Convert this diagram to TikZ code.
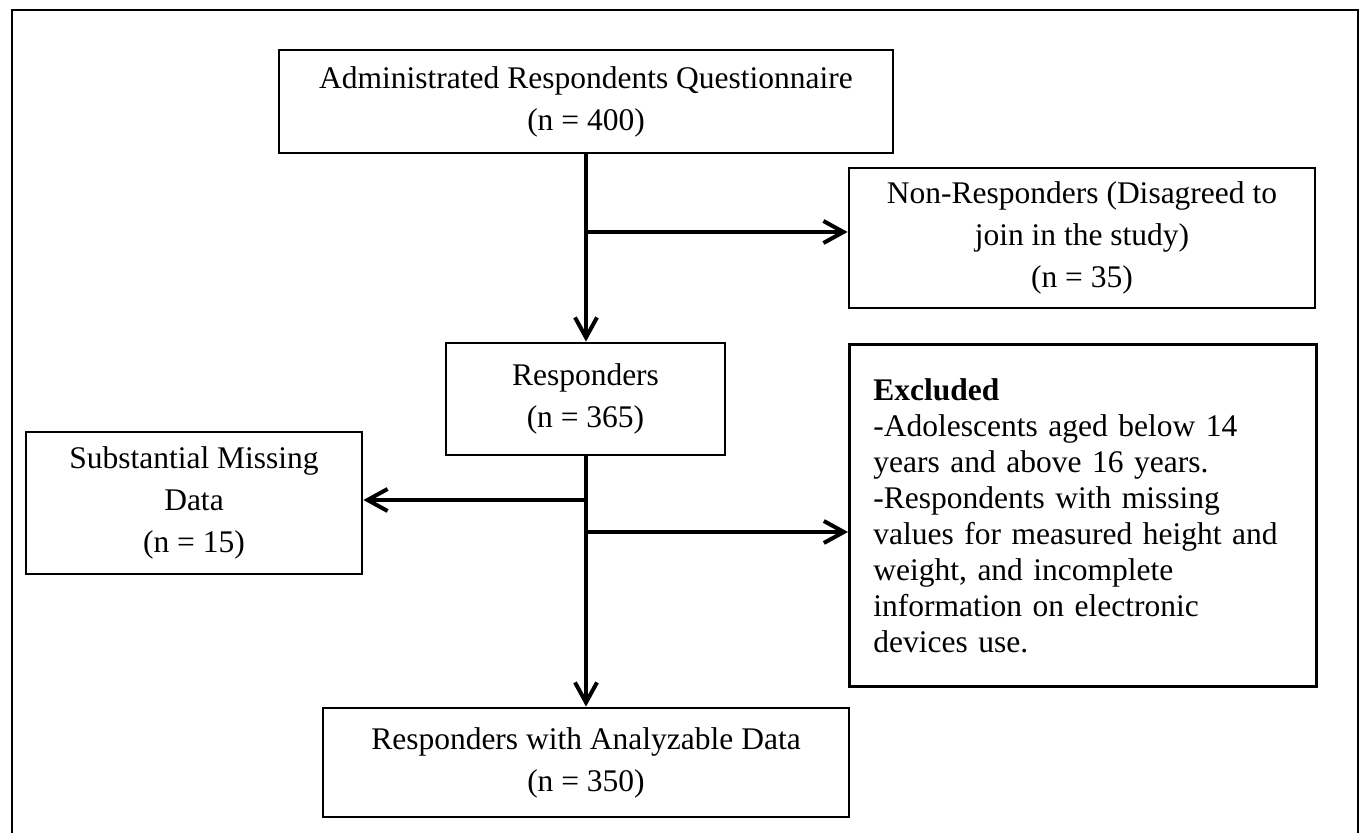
\documentclass[tikz,border=0pt]{standalone}
\usepackage{fontspec}
\setmainfont{Liberation Serif}
\usetikzlibrary{arrows.meta}
\begin{document}
\begin{tikzpicture}[x=0.5pt,y=-0.5pt,
  box/.style={draw, line width=1.4pt, rectangle, align=center, inner sep=0pt,
    font=\fontsize{15.75}{21}\selectfont},
  arr/.style={line width=2pt, -{Straight Barb[length=10pt,width=11pt]}},
  frame/.style={line width=1pt}]
\useasboundingbox (0,0) rectangle (1362,833);
\draw[frame] (12,840) -- (12,10) -- (1358,10) -- (1358,840);
\node[box, minimum width=307pt, minimum height=51.5pt] (adm) at (586,101.5)
  {Administrated Respondents Questionnaire\\(n = 400)};
\node[box, minimum width=233pt, minimum height=70pt] (nr) at (1082,238)
  {Non-Responders (Disagreed to\\join in the study)\\(n = 35)};
\node[box, minimum width=139.5pt, minimum height=56pt] (resp) at (585.5,399)
  {Responders\\(n = 365)};
\node[box, minimum width=168pt, minimum height=71pt] (sub) at (194,503)
  {Substantial Missing\\Data\\(n = 15)};
\node[box, anchor=north west, align=left, text width=209.5pt, inner xsep=12pt,
  minimum height=171pt, font=\fontsize{15.75}{18}\selectfont] (exc) at (848,343)
  {\textbf{Excluded}\\-Adolescents aged below 14\\years and above 16 years.\\-Respondents with missing\\values for measured height and\\weight, and incomplete\\information on electronic\\devices use.};
\node[box, minimum width=263pt, minimum height=54.5pt] (ana) at (586,762.5)
  {Responders with Analyzable Data\\(n = 350)};
\coordinate (j1) at (586,232);
\coordinate (j2) at (586,500);
\coordinate (j3) at (586,532);
\draw[arr] (adm.south -| j1) -- (resp.north -| j1);
\draw[arr] (j1) -- (j1 -| nr.west);
\draw[arr] (resp.south -| j2) -- (ana.north -| j2);
\draw[arr] (j2) -- (j2 -| sub.east);
\draw[arr] (j3) -- (j3 -| exc.west);
\end{tikzpicture}
\end{document}
